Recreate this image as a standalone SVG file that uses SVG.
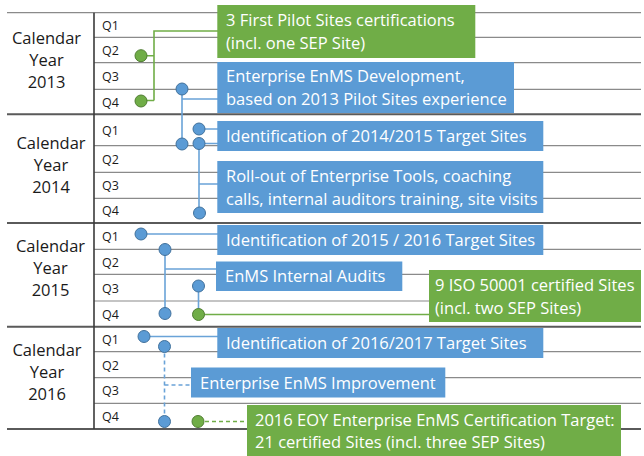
<svg xmlns="http://www.w3.org/2000/svg" width="644" height="456" viewBox="0 0 644 456">
<style>
.bg{fill:#ffffff}
.thin{stroke:#8a8a8a;stroke-width:1.2;fill:none}
.thick{stroke:#5a5a5a;stroke-width:2;fill:none}
.axis{stroke:#3a3a3a;stroke-width:1.6;fill:none}
.yr{font-family:"Open Sans","Liberation Sans",sans-serif;font-size:16.5px;fill:#1a1a1a;text-anchor:middle}
.q{font-family:"Open Sans","Liberation Sans",sans-serif;font-size:12.5px;fill:#1a1a1a}
.blue{fill:#5B9BD5}
.green{fill:#70AD47}
.t{font-family:"Open Sans","Liberation Sans",sans-serif;font-size:16.5px;fill:#ffffff}
.cb{stroke:#6aa3d8;stroke-width:1.6;fill:none}
.cg{stroke:#70AD47;stroke-width:1.6;fill:none}
.dash{stroke-dasharray:4 3}
.db{fill:#5B9BD5;stroke:#41719C;stroke-width:1}
.dg{fill:#70AD47;stroke:#507E32;stroke-width:1}
</style>
<rect class="bg" x="0" y="0" width="644" height="456"/>
<g id="grid">
<path class="thin" d="M7,12.7H641"/>
<path class="thin" d="M94,37.3H641M94,62.7H641M94,89.3H641M94,145.7H641M94,172.3H641M94,198.3H641M94,249.3H641M94,274.3H641M94,301H641M94,351.7H641M94,377.7H641M94,403.3H641"/>
<path class="thick" d="M7,114.3H641M7,223H641M7,326.7H641M7,429H641"/>
<path class="axis" d="M94,12.7V429"/>
</g>
<g id="labels">
<text class="yr" x="46.5" y="44">Calendar</text>
<text class="yr" x="46.5" y="66">Year</text>
<text class="yr" x="46.5" y="88">2013</text>
<text class="yr" x="51" y="149">Calendar</text>
<text class="yr" x="51" y="171">Year</text>
<text class="yr" x="51" y="193">2014</text>
<text class="yr" x="50.5" y="252">Calendar</text>
<text class="yr" x="50.5" y="274">Year</text>
<text class="yr" x="50.5" y="296">2015</text>
<text class="yr" x="47" y="355.5">Calendar</text>
<text class="yr" x="47" y="377.5">Year</text>
<text class="yr" x="47" y="399.5">2016</text>
<text class="q" x="102" y="29.5">Q1</text>
<text class="q" x="102" y="54.5">Q2</text>
<text class="q" x="102" y="80.5">Q3</text>
<text class="q" x="102" y="106.5">Q4</text>
<text class="q" x="102" y="134.5">Q1</text>
<text class="q" x="102" y="163.5">Q2</text>
<text class="q" x="102" y="189.5">Q3</text>
<text class="q" x="102" y="215">Q4</text>
<text class="q" x="102" y="240.5">Q1</text>
<text class="q" x="102" y="266.5">Q2</text>
<text class="q" x="102" y="292.5">Q3</text>
<text class="q" x="102" y="318.5">Q4</text>
<text class="q" x="102" y="343.5">Q1</text>
<text class="q" x="102" y="369.5">Q2</text>
<text class="q" x="102" y="395">Q3</text>
<text class="q" x="102" y="420.5">Q4</text>
</g>
<g id="connectors">
<path class="cg" d="M141,55.7H154M141,100.5H154M154,100.5V31H218"/>
<path class="cb" d="M182,89V144M182,99H218"/>
<path class="cb" d="M199,129H218M199,143.5H218M199,143.5V213M199,184H218"/>
<path class="cb" d="M141,234H218M165,249.5V313.5M165,269H217M198.5,286V314.5"/>
<path class="cg" d="M198.5,314.5H430"/>
<path class="cb" d="M144,336.5H218"/>
<path class="cb dash" d="M164.5,346.5V421.5M164.5,385H191"/>
<path class="cg dash" d="M198,421.5H247"/>
</g>
<g id="n1"><rect class="green" x="217.3" y="5" width="258" height="53"/><text class="t" x="226" y="26">3 First Pilot Sites certifications</text><text class="t" x="226" y="49">(incl. one SEP Site)</text></g>
<g id="n2"><rect class="blue" x="217.3" y="62" width="296.7" height="51"/><text class="t" x="226" y="82">Enterprise EnMS Development,</text><text class="t" x="226" y="105">based on 2013 Pilot Sites experience</text></g>
<g id="n3"><rect class="blue" x="217.3" y="121" width="326" height="30"/><text class="t" x="226" y="142">Identification of 2014/2015 Target Sites</text></g>
<g id="n4"><rect class="blue" x="217.3" y="161" width="326" height="52"/><text class="t" x="226" y="181.5">Roll-out of Enterprise Tools, coaching</text><text class="t" x="226" y="204.5">calls, internal auditors training, site visits</text></g>
<g id="n5"><rect class="blue" x="217.3" y="225" width="326" height="30"/><text class="t" x="226" y="246">Identification of 2015 / 2016 Target Sites</text></g>
<g id="n6"><rect class="blue" x="216" y="261.5" width="186.3" height="29.5"/><text class="t" x="225" y="282">EnMS Internal Audits</text></g>
<g id="n7"><rect class="green" x="429" y="270" width="212" height="52"/><text class="t" x="435" y="290.5">9 ISO 50001 certified Sites</text><text class="t" x="435" y="313.5">(incl. two SEP Sites)</text></g>
<g id="n8"><rect class="blue" x="217.3" y="328" width="326" height="30"/><text class="t" x="226" y="349">Identification of 2016/2017 Target Sites</text></g>
<g id="n9"><rect class="blue" x="191" y="367.5" width="254.3" height="30"/><text class="t" x="200" y="388.5">Enterprise EnMS Improvement</text></g>
<g id="n10"><rect class="green" x="247" y="405" width="374" height="53"/><text class="t" x="255" y="426">2016 EOY Enterprise EnMS Certification Target:</text><text class="t" x="255" y="448">21 certified Sites (incl. three SEP Sites)</text></g>
<g id="markers">
<circle class="dg" cx="141" cy="55.7" r="6"/>
<circle class="dg" cx="141" cy="101" r="6"/>
<circle class="db" cx="182" cy="89" r="6"/>
<circle class="db" cx="182" cy="144" r="6"/>
<circle class="db" cx="199" cy="129" r="6"/>
<circle class="db" cx="199" cy="143.5" r="6"/>
<circle class="db" cx="199.5" cy="213" r="6"/>
<circle class="db" cx="141" cy="234" r="6"/>
<circle class="db" cx="165" cy="249.5" r="6"/>
<circle class="db" cx="165" cy="313.5" r="6"/>
<circle class="db" cx="198.5" cy="286" r="6"/>
<circle class="dg" cx="198.5" cy="314.5" r="6"/>
<circle class="db" cx="144" cy="336.5" r="6"/>
<circle class="db" cx="164.5" cy="346.5" r="6"/>
<circle class="db" cx="164.5" cy="421.5" r="6"/>
<circle class="dg" cx="198" cy="421.5" r="6"/>
</g>
</svg>
